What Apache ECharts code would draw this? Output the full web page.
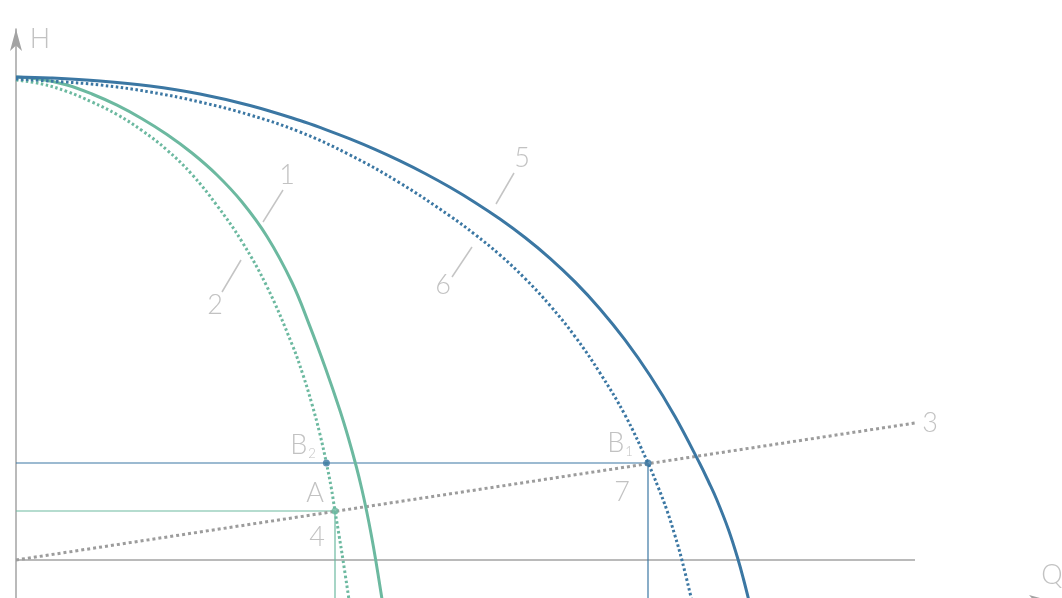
<!DOCTYPE html>
<html>
<head>
<meta charset="utf-8">
<script src="https://cdn.jsdelivr.net/npm/echarts@6/dist/echarts.min.js"></script>
<style>
html,body{margin:0;padding:0;background:#fff;width:1062px;height:598px;overflow:hidden;}
#chart{width:1062px;height:602px;}
</style>
</head>
<body>
<div id="chart"></div>
<script>
// ---- data (schematic units) ----
const curve1Q = [0, 2.6, 5.1, 7.6, 10.1, 12.6, 15.1, 17.6, 20.1, 22.6, 25.1, 27.6, 29.4,
                 30.94, 32.38, 33.24, 34.04, 34.58, 35.06, 35.53, 35.97, 36.63];
const curve1H = [52.4, 52.15, 51.6, 50.7, 49.58, 48.23, 46.65, 44.8, 42.6, 39.9, 36.45, 31.85, 27.44,
                 23.3, 19.1, 16.3, 13.4, 11.2, 9.0, 6.6, 4.1, 0];

const curve2Q = [0, 2.6, 5.1, 7.6, 10.1, 12.6, 15.1, 17.6, 20.1, 22.6, 25.1, 27.6,
                 28.67, 29.62, 30.39, 31.04, 31.51, 31.9, 32.3, 32.7, 33.32];
const curve2H = [52.1, 51.7, 50.95, 49.9, 48.65, 47.05, 45.1, 42.65, 39.55, 35.93, 31.43, 25.68,
                 22.7, 19.6, 16.7, 13.8, 11.4, 9.0, 6.6, 4.1, 0];

const curve5Q = [0, 3.4, 8.4, 13.4, 18.4, 23.4, 28.4, 30.9, 33.4, 35.9, 38.4, 40.9, 43.4, 45.9, 48.4,
                 50.9, 53.4, 55.9, 58.4, 60.9, 63.4, 65.9, 68.4, 69.27, 70.09, 71.26, 72.22, 72.77, 73.3];
const curve5H = [52.4, 52.3, 52.0, 51.5, 50.7, 49.55, 48.05, 47.17, 46.21, 45.16, 44.01, 42.75, 41.37, 39.86, 38.2,
                 36.35, 34.27, 31.91, 29.21, 26.11, 22.55, 18.45, 13.7, 11.9, 10.1, 7.1, 4.1, 2.1, 0];

const curve6Q = [0, 3.4, 8.4, 13.4, 18.4, 23.4, 28.4, 33.4, 38.4, 43.4, 45.9, 48.4, 50.9, 53.4, 55.9, 58.4,
                 60.9, 63.2, 64.21, 65.08, 65.88, 66.59, 67.59];
const curve6H = [52.2, 52.0, 51.6, 50.9, 49.9, 48.6, 46.9, 44.6, 41.8, 38.5, 36.65, 34.6, 32.25, 29.55, 26.45, 22.8,
                 18.6, 13.8, 11.4, 9.1, 6.6, 4.1, 0];

const line3Q = [0, 89.9];
const line3H = [4.1, 17.8];

const staticH = 4.1, staticEndQ = 89.9;
const pointA = [31.9, 9.0];
const pointB1 = [63.2, 13.8];
const pointB2 = [31.04, 13.8];

const leaders = [
  [[24.7, 37.9], [26.7, 41.1]],
  [[20.6, 30.9], [22.5, 34.1]],
  [[48.0, 39.7], [49.8, 42.8]],
  [[43.6, 32.4], [45.6, 35.4]]
];

const labelTexts = ['1', '2', '5', '6', '3', '{b|B}{s|2}', 'A', '4', '{b|B}{s|1}', '7', 'H', 'Q'];
const labelQ = [27.1, 19.9, 50.6, 42.7, 91.4, 28.7, 29.9, 30.1, 60.4, 60.6, 2.4, 103.6];
const labelH = [42.6, 29.6, 44.3, 31.6, 17.8, 15.6, 10.8, 6.4, 15.8, 10.9, 56.2, 2.6];

const Q_MAX = 103.5, H_MAX = 57.2;

// ---- build ----
const zip = (a, b) => a.map((v, i) => [v, b[i]]);
const BLUE = '#3b77a3', GREEN = '#6cb9a0', GRAY = '#a3a3a3', TXT = '#b3b3b3';
const FONT = 'Lato, "Open Sans", sans-serif';

const segment = (pts, color, width, type, z) => ({
  type: 'line', data: pts, showSymbol: false, silent: true, z: z || 2,
  lineStyle: {color, width, type: type || 'solid'}, clip: false
});

const curve = (q, h, color, type) => ({
  type: 'line', data: zip(q, h), smooth: 0.4, showSymbol: false, z: 4, silent: true,
  lineStyle: {color, width: 3, type: type || 'solid'}
});

const series = [
  segment([[0, staticH], [staticEndQ, staticH]], GRAY, 1.5),
  segment([[0, pointB1[1]], pointB1], BLUE, 1.2),
  segment([pointB1, [pointB1[0], 0]], BLUE, 1.2),
  segment([[0, pointA[1]], pointA], GREEN, 1.2),
  segment([pointA, [pointA[0], 0]], GREEN, 1.2),
  segment(zip(line3Q, line3H), '#9c9c9c', 3, [3, 3], 3),
  ...leaders.map(l => segment(l, '#c4c4c4', 1.5)),
  curve(curve1Q, curve1H, GREEN),
  curve(curve2Q, curve2H, GREEN, [2.5, 2.5]),
  curve(curve5Q, curve5H, BLUE),
  curve(curve6Q, curve6H, BLUE, [2.5, 2.5]),
  {type: 'scatter', data: [pointB1, pointB2], symbolSize: 7, z: 6, silent: true,
   itemStyle: {color: BLUE}},
  {type: 'scatter', data: [pointA], symbolSize: 7, z: 6, silent: true,
   itemStyle: {color: GREEN}},
  {type: 'scatter', clip: false, symbolSize: 0, z: 7, silent: true,
   data: labelTexts.map((t, i) => [labelQ[i], labelH[i], t]),
   label: {
     show: true, position: 'inside',
     formatter: p => p.data[2],
     color: TXT, fontFamily: FONT, fontWeight: 300, fontSize: 27,
     rich: {
       b: {color: TXT, fontFamily: FONT, fontWeight: 300, fontSize: 27, lineHeight: 30},
       s: {color: TXT, fontFamily: FONT, fontWeight: 300, fontSize: 13, lineHeight: 10,
           verticalAlign: 'bottom', padding: [0, 0, 0, 1]}
     }
   }}
];

const axisCommon = {
  type: 'value', min: 0,
  axisTick: {show: false}, axisLabel: {show: false}, splitLine: {show: false},
  axisLine: {show: true, onZero: false,
    symbol: ['none', 'arrow'], symbolSize: [9, 22],
    lineStyle: {color: GRAY, width: 1.5}}
};

const chart = echarts.init(document.getElementById('chart'), null, {renderer: 'canvas'});
chart.setOption({
  animation: false,
  backgroundColor: '#fff',
  grid: {left: 16, right: 11, top: 29, bottom: 1, containLabel: false},
  xAxis: Object.assign({}, axisCommon, {max: Q_MAX}),
  yAxis: Object.assign({}, axisCommon, {max: H_MAX}),
  series
});
</script>
</body>
</html>
